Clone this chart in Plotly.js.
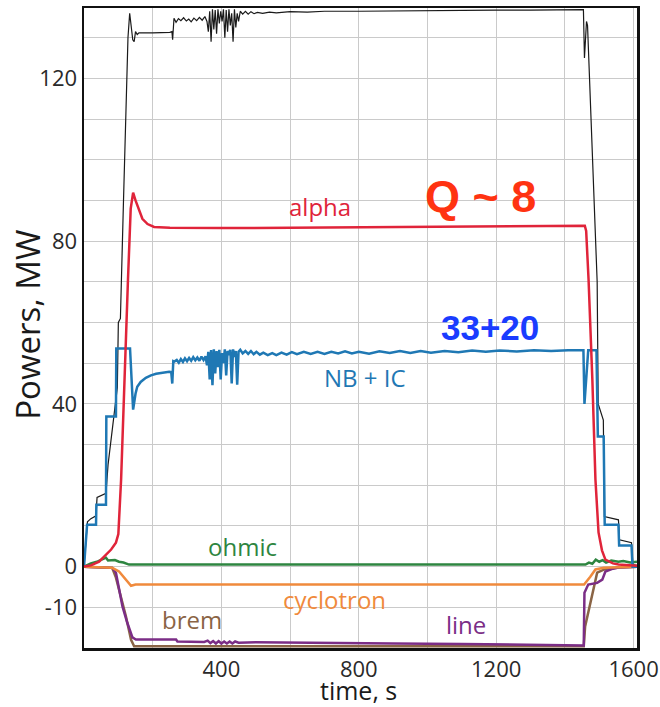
<!DOCTYPE html>
<html>
<head>
<meta charset="utf-8">
<script src="https://cdn.plot.ly/plotly-3.0.1.min.js"></script>
<style>html,body{margin:0;padding:0;background:#fff;}#chart{width:660px;height:707px;}</style>
</head>
<body>
<div id="chart"></div>
<script>
// ---- data (time in s, power in MW) ----
const totalT = [0,10,20,35,38,64,70,93,97,100,106,115,122,128,133,138,142,146,150,155,160,200,250,256,258,262,268,275,282,290,298,305,312,320,328,336,344,352,358,362,366,370,374,378,382,386,390,394,398,402,406,410,414,418,422,426,430,434,438,442,446,450,455,462,470,478,486,495,505,520,540,560,600,650,700,800,900,1000,1100,1200,1300,1400,1454,1457,1463,1466,1480,1494,1497,1512,1515,1556,1559,1594,1598,1610];
const totalP = [0,11,11.8,12.5,17,18,25,42,44,60,61,90,115,130,136,133,129.5,129,131.5,130.8,131.2,131.2,131.3,131.5,129.5,134.8,133.8,134.7,134.2,134.9,134.1,134.6,133.9,134.8,134.2,135.0,134.3,135.2,134.0,131.5,136.5,129,137,132,136.8,131,137,133.5,136.5,134,137,130,136.8,131.5,137,133,136,129,137,132.5,136,134,136.5,135.8,136.5,135.8,136.4,135.9,136.2,136.0,136.3,136.1,136.4,136.3,136.5,136.5,136.6,136.7,136.8,136.8,136.8,136.9,136.9,125,134,133,102,70,40,36,12.3,11.5,6.6,5.9,0.5,0.3];

const nbT = [0,5,9,35,36,64,65,93,94,134,140,143,150,155,165,180,195,210,248,254,257,260,263,270,276,282,288,294,300,306,312,318,324,330,336,342,348,354,358,362,366,370,374,378,382,386,390,394,398,402,406,410,414,418,422,426,430,434,438,442,446,450,455,462,470,478,486,494,502,512,522,535,548,560,575,590,605,620,640,660,680,700,720,740,760,780,800,830,860,890,920,950,980,1010,1050,1090,1130,1170,1210,1260,1310,1360,1410,1454,1457,1468,1492,1496,1513,1516,1556,1558,1594,1597,1610];
const nbP = [0,6,10.3,10.3,15.2,15.2,36.9,36.9,53.6,53.6,41,38.6,42.5,44.2,45.4,46.4,47,47.4,47.9,47.8,45,50.5,50.4,50.8,50.1,51,50.3,51.2,50.5,51.3,50.6,51.5,50.7,51.4,50.6,51.6,50.8,51.7,49.5,52.8,46,53.2,44.6,53.4,47.5,53,49,53.3,46,52.5,50,53.4,47,53,52,53.3,45,53.4,51.5,53,44.7,52.8,53.3,52.4,53,52.3,53,52.2,52.8,52.1,52.6,52.0,52.5,52.0,52.6,52.1,52.7,52.2,52.8,52.3,52.8,52.3,52.8,52.4,52.9,52.4,52.8,52.3,52.9,52.5,53.0,52.5,53.0,52.6,53.0,52.7,53.1,52.8,53.1,52.9,53.2,53.0,53.2,53.2,40,53.2,53.2,32,32,10.3,10.3,5.2,5.2,0,0];

const alphaT = [0,20,44,60,79,93,100,108,117,128,136,143,150,160,170,185,204,250,400,600,800,1000,1200,1400,1458,1462,1469,1480,1489,1498,1508,1518,1540,1556,1610];
const alphaP = [0,0.3,1.2,2.5,4.2,5.9,8,21.4,46,70.5,88,91.9,90,87.5,85.5,84.2,83.5,83.3,83.2,83.3,83.4,83.5,83.7,83.8,83.8,82.5,70.5,46,21.4,8.4,4,1.7,0.8,0.5,0.2];

const ohmicT = [0,20,40,64,70,90,102,115,131,300,600,900,1200,1460,1470,1480,1490,1500,1510,1520,1535,1556,1570,1590,1610];
const ohmicP = [0,0.8,1.3,2.2,1.5,1.6,1.2,1.0,0.5,0.5,0.5,0.5,0.5,0.5,1.0,0.7,1.7,1.2,1.6,1.0,1.5,1.2,1.4,1.0,1.2];

const cycT = [0,82,102,122,137,150,1456,1474,1489,1513,1610];
const cycP = [0,-0.3,-1.2,-3.2,-4.7,-4.4,-4.4,-2.5,-0.7,-0.3,0];

const bremT = [0,82,93,107,122,137,146,1455,1459,1494,1520,1560,1610];
const bremP = [0,-0.3,-2.7,-7.3,-12.2,-18,-19.6,-19.6,-14.7,-1.5,-0.5,-0.2,0];

const lineT = [0,82,93,102,112,126,141,151,268,272,350,360,368,376,384,392,400,408,416,424,432,440,450,500,700,900,1100,1300,1455,1457,1468,1494,1509,1518,1540,1556,1610];
const lineP = [0,-0.3,-1.5,-5.6,-9.8,-13.8,-17.4,-17.9,-17.9,-18.4,-18.5,-18.2,-18.8,-18.3,-18.9,-18.3,-18.9,-18.4,-18.9,-18.4,-18.9,-18.4,-18.7,-18.6,-18.8,-18.9,-19.0,-19.2,-19.4,-6.4,-4.4,-4.0,-3.2,-1.2,-0.5,-0.2,0];

const xTickVals = [0,200,400,600,800,1000,1200,1400,1600];
const xTickText = ['','','400','','800','','1200','','1600'];
const yTickVals = [-20,-10,0,10,20,30,40,50,60,70,80,90,100,110,120,130];
const yTickText = ['','-10','0','','','','40','','','','80','','','','120',''];

const labels = [
  {text:'alpha', x:686, y:88.5, color:'#e0243a'},
  {text:'NB + IC', x:818, y:46.4, color:'#1f78b4'},
  {text:'ohmic', x:461, y:4.9, color:'#2e8540'},
  {text:'cyclotron', x:730, y:-8.1, color:'#f08a3c'},
  {text:'brem', x:315, y:-13.0, color:'#8a6445'},
  {text:'line', x:1112, y:-14.3, color:'#7b2d86'}
];
const bigLabels = [
  {text:'Q ~ 8', x:1153, y:90.9, color:'#ff3311', size:45},
  {text:'33+20', x:1182, y:58.7, color:'#1a3cff', size:35}
];

const traces = [
  {x:totalT, y:totalP, color:'#1a1a1a', w:1.2},
  {x:bremT, y:bremP, color:'#8a6445', w:2.5},
  {x:lineT, y:lineP, color:'#7b2d86', w:2.5},
  {x:cycT, y:cycP, color:'#f08a3c', w:2.5},
  {x:ohmicT, y:ohmicP, color:'#2e8540', w:2.5},
  {x:nbT, y:nbP, color:'#1f78b4', w:2.5},
  {x:alphaT, y:alphaP, color:'#e0243a', w:2.5}
].map(s => ({x:s.x, y:s.y, type:'scatter', mode:'lines', line:{color:s.color, width:s.w}, hoverinfo:'skip', showlegend:false}));

const annotations = labels.map(l => ({x:l.x, y:l.y, text:l.text, showarrow:false, font:{family:'Open Sans', size:24, color:l.color}}))
  .concat(bigLabels.map(l => ({x:l.x, y:l.y, text:'<b>'+l.text+'</b>', showarrow:false, font:{family:'Liberation Sans, Arial', size:l.size, color:l.color}})))
  .concat([
    {xref:'paper', yref:'paper', x:-0.1013, y:0.505, xanchor:'center', yanchor:'middle', textangle:-90,
      text:'Powers, MW', showarrow:false, font:{family:'Open Sans', size:33, color:'#1a1a1a'}},
    {xref:'paper', yref:'paper', x:0.496, y:-0.066, xanchor:'center', yanchor:'middle',
      text:'time, s', showarrow:false, font:{family:'Open Sans', size:25, color:'#1a1a1a'}}
  ]);

const layout = {
  width:660, height:707,
  margin:{l:84, r:23, t:8, b:59},
  paper_bgcolor:'#fff', plot_bgcolor:'#fff',
  font:{family:'Open Sans', color:'#2a2a2a'},
  xaxis:{range:[0,1610], tickmode:'array', tickvals:xTickVals, ticktext:xTickText,
    showgrid:true, gridcolor:'#cacaca', gridwidth:1, zeroline:false,
    showline:true, linecolor:'#111', linewidth:2.5, mirror:true, ticks:'',
    tickfont:{size:22, color:'#2a2a2a'}},
  yaxis:{range:[-20,137.3], tickmode:'array', tickvals:yTickVals, ticktext:yTickText,
    showgrid:true, gridcolor:'#cacaca', gridwidth:1, zeroline:false,
    showline:true, linecolor:'#111', linewidth:2.5, mirror:true, ticks:'',
    tickfont:{size:22, color:'#2a2a2a'}},
  annotations:annotations
};

Plotly.newPlot('chart', traces, layout, {displayModeBar:false, staticPlot:true});
</script>
</body>
</html>
